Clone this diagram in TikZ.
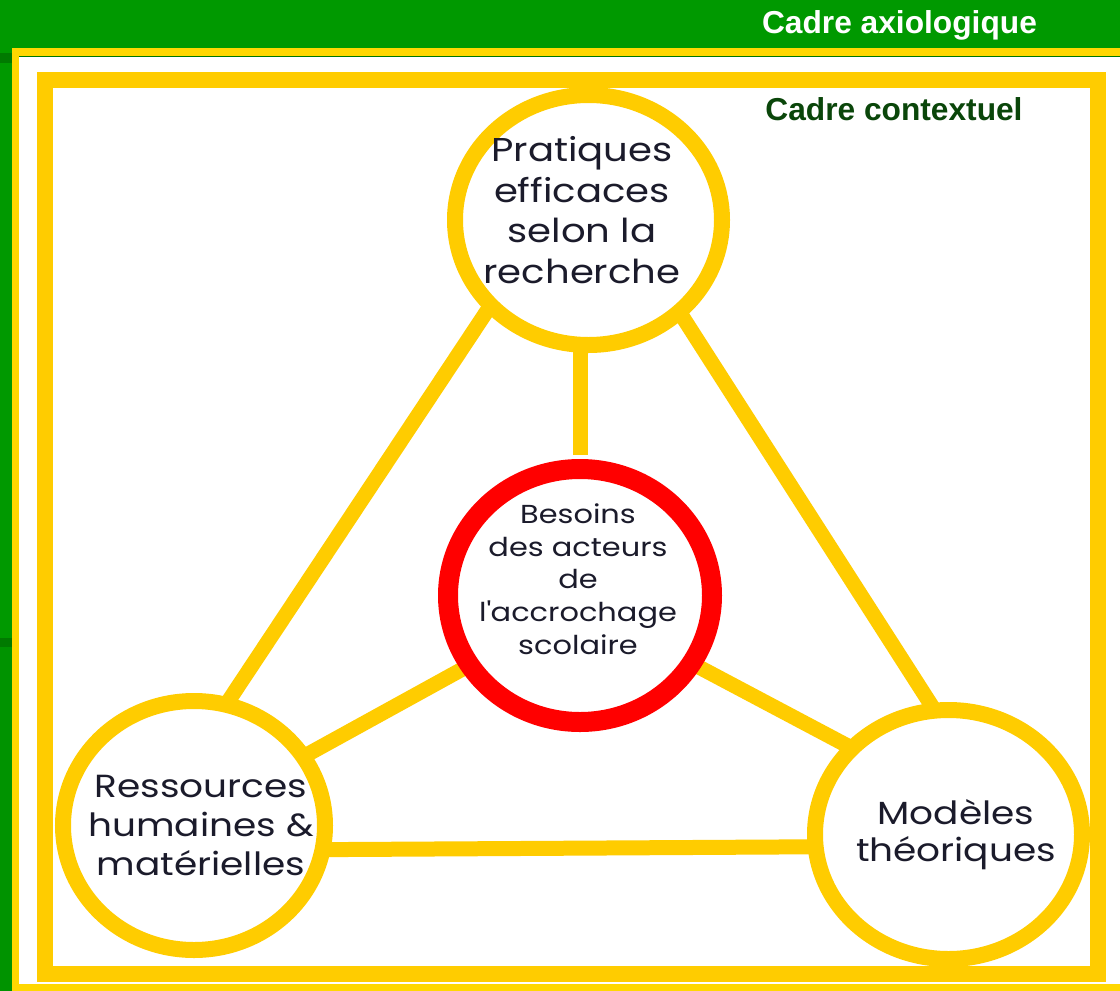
\documentclass[tikz,border=0pt]{standalone}
\usepackage{fontspec}
\setmainfont{Poppins}[FakeStretch=1.17]
\newfontfamily\arialfont{Liberation Sans}
\usetikzlibrary{shapes.geometric,backgrounds}
\definecolor{bggreen}{HTML}{009900}
\definecolor{stripgreen}{HTML}{009300}
\definecolor{darkpatch}{HTML}{007A00}
\definecolor{gold}{HTML}{FFD700}
\definecolor{ringyellow}{HTML}{FFCC00}
\definecolor{ringred}{HTML}{FF0000}
\definecolor{txt}{HTML}{1B1B2B}
\definecolor{ctxgreen}{HTML}{0A460A}
\definecolor{thinline}{HTML}{007700}
\begin{document}
\begin{tikzpicture}[x=1pt,y=-1pt,
  ring/.style={ellipse, draw=ringyellow, line width=16pt, fill=white, inner sep=0pt},
  redring/.style={ellipse, draw=ringred, line width=20pt, fill=white, inner sep=0pt},
  ringtext/.style={align=center, text=txt, inner sep=0pt},
  link/.style={draw=ringyellow, line width=15pt},
  ext/.style={shorten <=-14pt, shorten >=-14pt},
  frame/.style={draw=ringyellow, line width=16pt},
  titlefont/.style={font=\arialfont\bfseries\fontsize{31.7}{36}\selectfont, inner sep=0pt}
]
\useasboundingbox (0,0) rectangle (1120,991);

% circles
\node[ring, minimum width=267pt, minimum height=250pt] (top) at (588.5,220) {};
\node[redring, minimum width=264pt, minimum height=253pt] (red) at (580,595.5) {};
\node[ring, minimum width=262pt, minimum height=249pt] (bl) at (194,825.5) {};
\node[ring, minimum width=267pt, minimum height=249pt] (br) at (948.5,834.5) {};

% texts
\node[ringtext, font=\fontsize{33}{40.7}\selectfont] (toptxt) at (582,210)
  {Pratiques\\efficaces\\selon la\\recherche};
\node[ringtext, font=\fontsize{26}{32.75}\selectfont] (redtxt) at (578,579)
  {Besoins\\des acteurs\\de\\l\textquotesingle accrochage\\scolaire};
\node[ringtext, font=\fontsize{32}{39}\selectfont] (bltxt) at (201,825)
  {Ressources\\humaines \&\\matérielles};
\node[ringtext, font=\fontsize{32}{37}\selectfont] (brtxt) at (956,835)
  {Modèles\\théoriques};

% titles
\node[titlefont, text=white, anchor=base] (axio) at (899.5,33) {Cadre axiologique};
\node[titlefont, text=ctxgreen, anchor=base] (ctx) at (894,120) {Cadre contextuel};

\begin{scope}[on background layer]
  \fill[bggreen] (0,0) rectangle (1120,991);
  \fill[stripgreen] (0,643) rectangle (12,991);
  \fill[darkpatch] (0,53) rectangle (12,63);
  \fill[darkpatch] (0,638) rectangle (12,647);
  \fill[gold] (12,48) rectangle (1120,991);
  \fill[white] (19,57) rectangle (1120,984);
  \draw[thinline, line width=1.2pt] (19,56.6) -- (1120,56.6);
  \draw[frame] (44.5,80) rectangle (1097.5,974);
  % connectors
  \draw[link, ext] (top.222.6) -- (bl.74.3);
  \draw[link, ext] (top.314) -- (br.98.9);
  \draw[link] ([yshift=4pt]red.north) -- (red.north |- top.center);
  \draw[link, ext] (red.212.3) -- (bl.32.4);
  \draw[link, ext] (red.329.9) -- (br.139.6);
  \draw[link, ext] (bl.350) -- (br.185.4);
\end{scope}
\end{tikzpicture}
\end{document}
